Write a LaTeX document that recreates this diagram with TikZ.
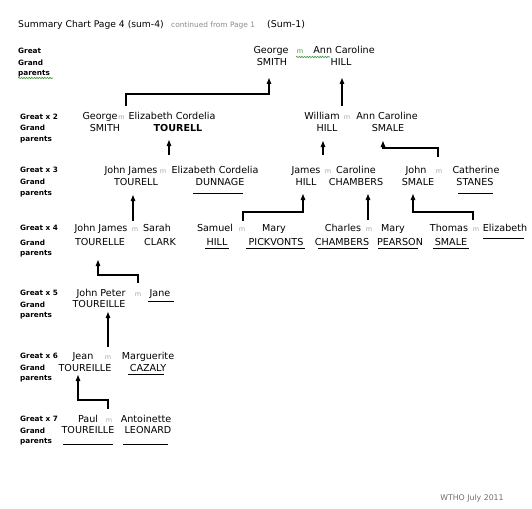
\documentclass[tikz,border=0pt]{standalone}
\usepackage{fontspec}
\setmainfont{DejaVu Sans}
\usetikzlibrary{arrows.meta,decorations.pathmorphing}
\definecolor{mgray}{RGB}{165,165,165}
\definecolor{tgray}{RGB}{140,140,140}
\definecolor{wgray}{RGB}{110,110,110}
\definecolor{spell}{RGB}{60,150,60}
\begin{document}
\begin{tikzpicture}[x=1pt,y=-1pt,
  nm/.style={inner sep=0pt,anchor=base,font=\fontsize{9.6}{11}\selectfont},
  nmb/.style={nm,font=\bfseries\fontsize{9.6}{11}\selectfont},
  lbl/.style={inner sep=0pt,anchor=base west,font=\bfseries\fontsize{7.3}{9}\selectfont},
  mm/.style={inner sep=0pt,anchor=base,text=mgray,font=\fontsize{6.5}{7}\selectfont},
  arr/.style={line width=1.1pt,-{Triangle[width=4.5pt,length=6pt]}},
  uline/.style={line width=1pt},
  wavy/.style={spell,line width=0.6pt,decorate,decoration={snake,amplitude=0.7pt,segment length=2.6pt}}]
\useasboundingbox[fill=white] (0,0) rectangle (532,508);

% title
\node[inner sep=0pt,anchor=base west,font=\fontsize{9.2}{11}\selectfont] (title) at (18,28) {Summary Chart Page 4 (sum-4)};
\node[inner sep=0pt,anchor=base west,text=tgray,font=\fontsize{7.4}{9}\selectfont] (cont) at (171,28) {continued from Page 1};
\node[inner sep=0pt,anchor=base west,font=\fontsize{9.4}{11}\selectfont] (sum1) at (267,28) {(Sum-1)};

% row labels
\node[lbl] (l1a) at (18,54) {Great};
\node[lbl] (l1b) at (18,66) {Grand};
\node[lbl] (l1c) at (18,76) {parents};
\draw[wavy] (18,78) -- (53,78);
\foreach \r/\t/\ya/\yb/\yc in {2/Great x 2/119/130/141, 3/Great x 3/172/184/195, 4/Great x 4/230/245/255, 5/Great x 5/295/307/317, 6/Great x 6/358/370/380, 7/Great x 7/421/433/443}{
  \node[lbl] (l\r a) at (20,\ya) {\t};
  \node[lbl] (l\r b) at (20,\yb) {Grand};
  \node[lbl] (l\r c) at (20,\yc) {parents};
}

% row 1
\node[nm] (r1gf) at (271,54) {George};
\node[nm] (r1gs) at (272,66) {SMITH};
\node[mm,text=spell] (r1m) at (300,54) {m};
\draw[wavy] (296,57) -- (330,57);
\node[nm] (r1af) at (344,54) {Ann Caroline};
\node[nm] (r1as) at (341,66) {HILL};

% row 2
\node[nm] (r2gf) at (100,120) {George};
\node[mm] (r2m) at (121.5,120) {m};
\node[nm] (r2ef) at (172,120) {Elizabeth Cordelia};
\node[nm] (r2gs) at (105,131) {SMITH};
\node[nmb] (r2es) at (178,131) {TOURELL};
\node[nm] (r2wf) at (322,120) {William};
\node[mm] (r2m2) at (347,120) {m};
\node[nm] (r2af) at (387,120) {Ann Caroline};
\node[nm] (r2ws) at (327,131) {HILL};
\node[nm] (r2as) at (388,131) {SMALE};

% row 3
\node[nm] (r3jf) at (131,173) {John James};
\node[mm] (r3m1) at (163,173) {m};
\node[nm] (r3ef) at (215,173) {Elizabeth Cordelia};
\node[nm] (r3js) at (136,185) {TOURELL};
\node[nm] (r3es) at (220,185) {DUNNAGE};
\draw[uline] (193,193) -- (243,193);
\node[nm] (r3af) at (306,173) {James};
\node[mm] (r3m2) at (328,173) {m};
\node[nm] (r3cf) at (356,173) {Caroline};
\node[nm] (r3as) at (306,185) {HILL};
\node[nm] (r3cs) at (356,185) {CHAMBERS};
\node[nm] (r3hf) at (416,173) {John};
\node[mm] (r3m3) at (439,173) {m};
\node[nm] (r3tf) at (476,173) {Catherine};
\node[nm] (r3hs) at (418,185) {SMALE};
\node[nm] (r3ts) at (475,185) {STANES};
\draw[uline] (458,193) -- (493,193);

% row 4
\node[nm] (r4jf) at (101,231) {John James};
\node[mm] (r4m1) at (135,231) {m};
\node[nm] (r4sf) at (157,231) {Sarah};
\node[nm] (r4js) at (100,245) {TOURELLE};
\node[nm] (r4ss) at (160,245) {CLARK};
\node[nm] (r4af) at (215,231) {Samuel};
\node[nm] (r4as) at (217,245) {HILL};
\draw[uline] (205,248) -- (229,248);
\node[mm] (r4m2) at (242,231) {m};
\node[nm] (r4bf) at (274,231) {Mary};
\node[nm] (r4bs) at (276,245) {PICKVONTS};
\draw[uline] (246,248) -- (305,248);
\node[nm] (r4cf) at (343,231) {Charles};
\node[mm] (r4m3) at (369,231) {m};
\node[nm] (r4df) at (393,231) {Mary};
\node[nm] (r4cs) at (342,245) {CHAMBERS};
\draw[uline] (318,248) -- (368,248);
\node[nm] (r4ds) at (400,245) {PEARSON};
\draw[uline] (378,248) -- (418,248);
\node[nm] (r4tf) at (449,231) {Thomas};
\node[mm] (r4m4) at (476,231) {m};
\node[nm] (r4ef) at (505,231) {Elizabeth};
\node[nm] (r4ts) at (451,245) {SMALE};
\draw[uline] (433,248) -- (469,248);
\draw[uline] (483,238) -- (524,238);

% row 5
\node[nm] (r5jf) at (101,296) {John Peter};
\node[mm] (r5m) at (138,296) {m};
\node[nm] (r5af) at (160,296) {Jane};
\draw[uline] (148,301) -- (174,301);
\node[nm] (r5js) at (99,307) {TOUREILLE};

% row 6
\node[nm] (r6jf) at (83,359) {Jean};
\node[mm] (r6m) at (108,359) {m};
\node[nm] (r6mf) at (148,359) {Marguerite};
\node[nm] (r6js) at (85,371) {TOUREILLE};
\node[nm] (r6ms) at (148,371) {CAZALY};
\draw[uline] (128,374) -- (164,374);

% row 7
\node[nm] (r7pf) at (88,422) {Paul};
\node[mm] (r7m) at (109,422) {m};
\node[nm] (r7af) at (146,422) {Antoinette};
\node[nm] (r7ps) at (88,433) {TOUREILLE};
\node[nm] (r7as) at (148,433) {LEONARD};
\draw[uline] (63,444) -- (113,444);
\draw[uline] (123,444) -- (168,444);

% footer
\node[inner sep=0pt,anchor=base,text=wgray,font=\fontsize{7.8}{9}\selectfont] (wtho) at (472,500) {WTHO July 2011};

% connector coordinates
\coordinate (s1) at (126,106); \coordinate (t1) at (269,78);
\coordinate (s2) at (342,106); \coordinate (t2) at (342,78);
\coordinate (s3) at (169,155); \coordinate (t3) at (169,140);
\coordinate (s4) at (323,155); \coordinate (t4) at (323,141);
\coordinate (s5) at (438,157); \coordinate (t5) at (383,141);
\coordinate (s6) at (133,221); \coordinate (t6) at (133,195);
\coordinate (s7) at (243,221); \coordinate (t7) at (303,194);
\coordinate (s8) at (368,220); \coordinate (t8) at (368,194);
\coordinate (s9) at (473,220); \coordinate (t9) at (413,194);
\coordinate (s10) at (138,283); \coordinate (t10) at (98,260);
\coordinate (s11) at (108,347); \coordinate (t11) at (108,312);
\coordinate (s12) at (108,409); \coordinate (t12) at (78,375);

\draw[arr] (s1) -- ++(0,-12) -| (t1);
\draw[arr] (s2) -- (t2);
\draw[arr] (s3) -- (t3);
\draw[arr] (s4) -- (t4);
\draw[arr] (s5) -- ++(0,-9) -| (t5);
\draw[arr] (s6) -- (t6);
\draw[arr] (s7) -- ++(0,-9) -| (t7);
\draw[arr] (s8) -- (t8);
\draw[arr] (s9) -- ++(0,-8) -| (t9);
\draw[arr] (s10) -- ++(0,-8) -| (t10);
\draw[arr] (s11) -- (t11);
\draw[arr] (s12) -- ++(0,-9) -| (t12);
\end{tikzpicture}
\end{document}
